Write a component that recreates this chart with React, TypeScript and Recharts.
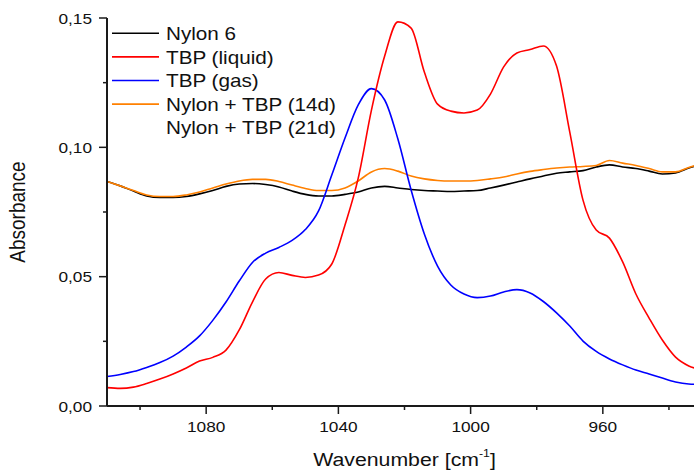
import React from 'react'
import { LineChart, Line, XAxis, YAxis } from 'recharts'

// wavenumber grid (cm-1), every 4 cm-1
const wavenumbers = [
  1110, 1106, 1102, 1098, 1094, 1090, 1086, 1082, 1078, 1074, 1070, 1066, 1062, 1058, 1054, 1050,
  1046, 1042, 1038, 1034, 1030, 1026, 1022, 1018, 1014, 1010, 1006, 1002, 998, 994, 990, 986,
  982, 978, 974, 970, 966, 962, 958, 954, 950, 946, 942, 938, 934, 930,
]

const nylon6 = [
  0.0868, 0.0851, 0.0831, 0.0812, 0.0806, 0.0806, 0.081, 0.082, 0.0833, 0.0849, 0.0858, 0.086, 0.0856, 0.0847, 0.0831, 0.0818,
  0.0812, 0.0812, 0.0818, 0.0827, 0.0843, 0.0849, 0.0843, 0.0837, 0.0833, 0.0831, 0.0829, 0.0831, 0.0833, 0.0843, 0.0854, 0.0866,
  0.0878, 0.0889, 0.09, 0.0905, 0.091, 0.0924, 0.0932, 0.0924, 0.0918, 0.0908, 0.0897, 0.0901, 0.092, 0.0936,
]

const tbpLiquid = [
  0.0071, 0.0068, 0.0073, 0.0087, 0.0104, 0.0124, 0.0147, 0.0174, 0.0188, 0.0216, 0.0294, 0.0402, 0.0491, 0.0516, 0.0505, 0.0497,
  0.0506, 0.0549, 0.07, 0.0881, 0.1144, 0.1353, 0.1485, 0.1461, 0.1291, 0.1167, 0.114, 0.1133, 0.1144, 0.1206, 0.1311, 0.1365,
  0.1378, 0.1392, 0.1314, 0.1059, 0.0796, 0.068, 0.0649, 0.0557, 0.0433, 0.034, 0.0255, 0.0189, 0.0155, 0.0139,
]

const tbpGas = [
  0.0114, 0.0122, 0.0133, 0.0149, 0.0168, 0.0193, 0.0228, 0.0271, 0.0331, 0.0402, 0.0483, 0.0555, 0.0591, 0.0613, 0.064, 0.0682,
  0.0754, 0.0893, 0.1036, 0.1164, 0.1227, 0.1183, 0.1032, 0.0835, 0.0665, 0.0541, 0.0468, 0.0433, 0.0419, 0.0425, 0.0441, 0.045,
  0.0437, 0.0404, 0.036, 0.0309, 0.0251, 0.0211, 0.0182, 0.0159, 0.0139, 0.0124, 0.0108, 0.0093, 0.0085, 0.0083,
]

const nylonTbp14d = [
  0.0868, 0.0851, 0.0833, 0.0816, 0.081, 0.081, 0.0816, 0.0827, 0.0843, 0.0858, 0.087, 0.0876, 0.0876, 0.0868, 0.0854, 0.0841,
  0.0833, 0.0833, 0.0843, 0.087, 0.0905, 0.0918, 0.0908, 0.0889, 0.0878, 0.0872, 0.087, 0.087, 0.0872, 0.0878, 0.0885, 0.0897,
  0.0907, 0.0914, 0.092, 0.0924, 0.0926, 0.093, 0.0949, 0.0939, 0.093, 0.0918, 0.0905, 0.0905, 0.0922, 0.0938,
]

const legendLabels = ['Nylon 6', 'TBP (liquid)', 'TBP (gas)', 'Nylon + TBP (14d)', 'Nylon + TBP (21d)']
const legendColors = ['#000000', '#ff0000', '#0000ff', '#ff8000', 'none']

const xTicks = [1100, 1080, 1060, 1040, 1020, 1000, 980, 960, 940]
const xMajor = [1080, 1040, 1000, 960]
const yTicks = [0, 0.025, 0.05, 0.075, 0.1, 0.125, 0.15]
const yMajor = [0, 0.05, 0.1, 0.15]

const data = wavenumbers.map((wn, i) => ({
  wn,
  nylon6: nylon6[i],
  tbpLiquid: tbpLiquid[i],
  tbpGas: tbpGas[i],
  nylonTbp14d: nylonTbp14d[i],
}))

const font = '"Liberation Sans", Arial, sans-serif'
const axisColor = '#1a1a1a'
const stretch = 1.15

const BottomTick = (props: any) => {
  const { x, y, payload } = props
  const major = xMajor.includes(payload.value)
  return (
    <g>
      <line x1={x} x2={x} y1={y} y2={y + (major ? 8 : 4)} stroke={axisColor} strokeWidth={1.5} />
      {major && (
        <text
          transform={`translate(${x},${y + 26}) scale(${stretch},1)`}
          textAnchor="middle"
          fontSize={15}
          fontFamily={font}
          fill="#111"
        >
          {payload.value}
        </text>
      )}
    </g>
  )
}

const TopTick = (props: any) => {
  const { x, y } = props
  return <line x1={x} x2={x} y1={y} y2={y + 4} stroke={axisColor} strokeWidth={1.5} />
}

const LeftTick = (props: any) => {
  const { x, y, payload } = props
  const major = yMajor.some((v) => Math.abs(v - payload.value) < 1e-9)
  return (
    <g>
      <line x1={x} x2={x - (major ? 8 : 4)} y1={y} y2={y} stroke={axisColor} strokeWidth={1.5} />
      {major && (
        <text
          transform={`translate(${x - 15},${y + 5.5}) scale(${stretch},1)`}
          textAnchor="end"
          fontSize={15}
          fontFamily={font}
          fill="#111"
        >
          {payload.value.toFixed(2).replace('.', ',')}
        </text>
      )}
    </g>
  )
}

const XTitle = (props: any) => {
  const { viewBox } = props
  const cx = viewBox.x + viewBox.width / 2
  return (
    <text
      transform={`translate(${cx},466) scale(1.12,1)`}
      textAnchor="middle"
      fontSize={19}
      fontFamily={font}
      fill="#111"
    >
      Wavenumber [cm
      <tspan fontSize={11} dy={-9}>-1</tspan>
      <tspan dy={9}>]</tspan>
    </text>
  )
}

const YTitle = () => (
  <text
    transform="translate(25,212) rotate(-90) scale(1,1.12)"
    textAnchor="middle"
    fontSize={19}
    fontFamily={font}
    fill="#111"
  >
    Absorbance
  </text>
)

function ChartLegend() {
  return (
    <svg width={400} height={150} style={{ position: 'absolute', left: 0, top: 0, pointerEvents: 'none' }}>
      {legendLabels.map((label, i) => {
        const y = 33.3 + i * 23.6
        return (
          <g key={label}>
            {legendColors[i] !== 'none' && (
              <line x1={112} x2={159} y1={y} y2={y} stroke={legendColors[i]} strokeWidth={1.6} />
            )}
            <text
              transform={`translate(166,${y + 6.7}) scale(${stretch},1)`}
              fontSize={18}
              fontFamily={font}
              fill="#111"
            >
              {label}
            </text>
          </g>
        )
      })}
    </svg>
  )
}

export default function App() {
  return (
    <div
      style={{
        position: 'absolute',
        left: 0,
        top: 0,
        width: 694,
        height: 473,
        overflow: 'hidden',
        background: '#fff',
      }}
    >
      <LineChart width={720} height={473} data={data} margin={{ top: 18, right: 18, left: 0, bottom: 0 }}>
        <XAxis
          dataKey="wn"
          type="number"
          domain={[930, 1110]}
          reversed
          allowDataOverflow
          ticks={xTicks}
          interval={0}
          height={67}
          tickSize={0}
          tickMargin={0}
          tickLine={false}
          tick={<BottomTick />}
          axisLine={{ stroke: axisColor, strokeWidth: 2 }}
          label={<XTitle />}
        />
        <XAxis
          xAxisId="top"
          dataKey="wn"
          type="number"
          orientation="top"
          domain={[930, 1110]}
          reversed
          allowDataOverflow
          ticks={xTicks}
          interval={0}
          height={0}
          tickSize={0}
          tickMargin={0}
          tickLine={false}
          tick={<TopTick />}
          axisLine={{ stroke: axisColor, strokeWidth: 2 }}
        />
        <YAxis
          type="number"
          domain={[0, 0.15]}
          allowDataOverflow
          ticks={yTicks}
          interval={0}
          width={107}
          tickSize={0}
          tickMargin={0}
          tickLine={false}
          tick={<LeftTick />}
          axisLine={{ stroke: axisColor, strokeWidth: 2 }}
          label={<YTitle />}
        />
        <Line type="monotone" dataKey="nylon6" stroke="#000000" strokeWidth={1.6} dot={false} isAnimationActive={false} />
        <Line type="monotone" dataKey="nylonTbp14d" stroke="#ff8000" strokeWidth={1.6} dot={false} isAnimationActive={false} />
        <Line type="monotone" dataKey="tbpGas" stroke="#0000ff" strokeWidth={1.6} dot={false} isAnimationActive={false} />
        <Line type="monotone" dataKey="tbpLiquid" stroke="#ff0000" strokeWidth={1.6} dot={false} isAnimationActive={false} />
      </LineChart>
      <ChartLegend />
    </div>
  )
}
